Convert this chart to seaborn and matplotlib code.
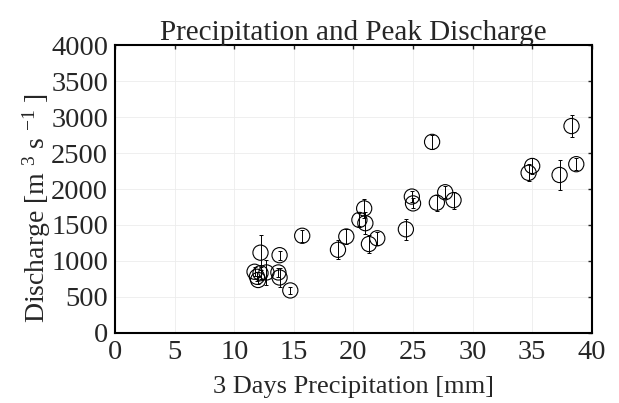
import pandas as pd
import matplotlib
matplotlib.use("Agg")
import matplotlib.pyplot as plt
import seaborn as sns

# 3 day precipitation [mm], peak discharge [m3/s], error half-width
precip = [11.7, 12.2, 12.0, 11.9, 12.2, 12.7, 13.7, 13.8, 13.8, 14.7,
          15.7, 18.7, 19.4, 20.9, 20.5, 21.0, 21.3, 22.0, 24.4, 24.9,
          25.0, 27.0, 27.7, 28.4, 26.6, 38.3, 38.7, 37.3, 35.0, 34.7]
discharge = [850, 830, 735, 780, 1115, 840, 840, 770, 1080, 590,
             1350, 1155, 1340, 1730, 1570, 1525, 1235, 1315, 1440, 1895,
             1800, 1810, 1955, 1845, 2655, 2875, 2345, 2195, 2320, 2225]
err = [60, 80, 60, 60, 240, 170, 60, 130, 60, 50,
       80, 130, 110, 130, 90, 150, 130, 90, 145, 80,
       70, 110, 80, 120, 100, 150, 80, 210, 110, 120]

df = pd.DataFrame({"precip": precip, "discharge": discharge, "err": err})

sns.set_style("white")
plt.rcParams["font.family"] = ["Liberation Serif", "DejaVu Serif"]
plt.rcParams["mathtext.default"] = "regular"

fig = plt.figure(figsize=(6.19, 4.03), dpi=100)
ax = fig.add_axes([0.186, 0.174, 0.770, 0.714])

ax.errorbar(df["precip"], df["discharge"], yerr=df["err"], fmt="none",
            ecolor="black", elinewidth=0.7, capsize=1.5, capthick=0.7, zorder=2)
sns.scatterplot(data=df, x="precip", y="discharge", ax=ax, marker="o", s=120,
                facecolor="none", edgecolor="black", linewidth=0.8, zorder=3)

ax.set_xlim(0, 40)
ax.set_ylim(0, 4000)
ax.set_xticks(range(0, 41, 5))
ax.set_yticks(range(0, 4001, 500))
ax.grid(True, color="#ececec", linewidth=0.6)
ax.tick_params(direction="in", top=True, right=True, length=3, width=1,
               labelsize=20.5, pad=5)
for sp in ax.spines.values():
    sp.set_linewidth(1.5)
    sp.set_color("black")

ax.set_title("Precipitation and Peak Discharge", fontsize=21, pad=4)
ax.set_xlabel("3 Days Precipitation [mm]", fontsize=19, labelpad=8)
ax.set_ylabel("Discharge [m $^{3}$ s $^{-1}$ ]", fontsize=20)
ax.yaxis.set_label_coords(-0.13, 0.435)

fig.savefig("out.png", dpi=100)
